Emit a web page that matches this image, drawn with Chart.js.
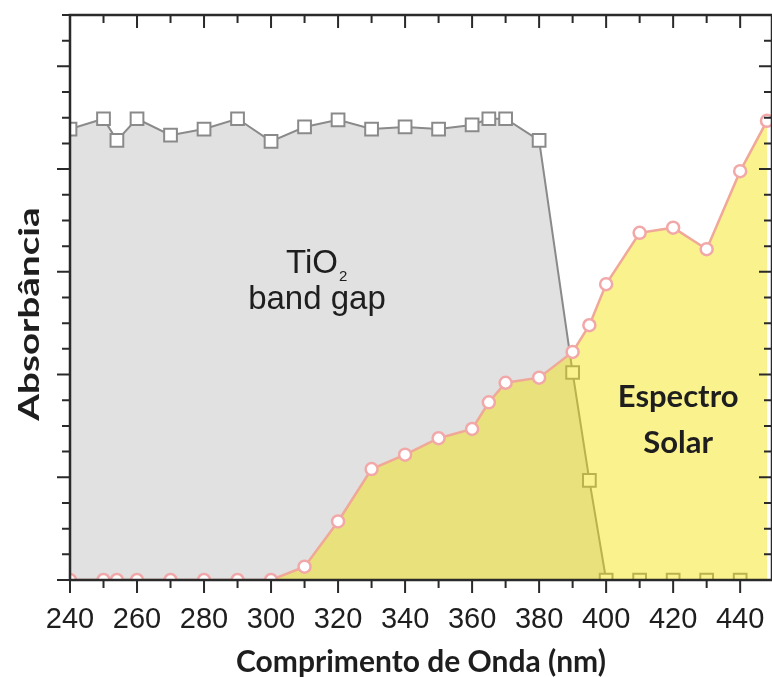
<!DOCTYPE html>
<html>
<head>
<meta charset="utf-8">
<script src="https://cdn.jsdelivr.net/npm/chart.js@4/dist/chart.umd.min.js"></script>
<style>
html, body { margin: 0; padding: 0; background: #fff; }
#wrap { width: 772px; height: 677px; }
</style>
</head>
<body>
<div id="wrap"><canvas id="chart" width="772" height="677"></canvas></div>
<script>
// TiO2 absorption (squares)
const wavelengthTiO2 = [240, 250, 254, 260, 270, 280, 290, 300, 310, 320, 330, 340, 350, 360, 365, 370, 380, 390, 395, 400, 410, 420, 430, 440];
const absTiO2 = [4.39, 4.49, 4.28, 4.49, 4.33, 4.39, 4.49, 4.27, 4.41, 4.48, 4.39, 4.41, 4.39, 4.43, 4.49, 4.49, 4.28, 2.02, 0.97, 0, 0, 0, 0, 0];

// solar spectrum (circles)
const wavelengthSolar = [240, 250, 254, 260, 270, 280, 290, 300, 310, 320, 330, 340, 350, 360, 365, 370, 380, 390, 395, 400, 410, 420, 430, 440, 448];
const absSolar = [0, 0, 0, 0, 0, 0, 0, 0, 0.13, 0.57, 1.08, 1.22, 1.38, 1.47, 1.73, 1.92, 1.97, 2.22, 2.48, 2.88, 3.38, 3.43, 3.22, 3.98, 4.47];

const xTickLabels = [240, 260, 280, 300, 320, 340, 360, 380, 400, 420, 440];
const xMin = 240, xMax = 449.5, xMinorStep = 10;
const yMax = 5.5, yMinorStep = 0.25;

const toPoints = (xs, ys) => xs.map((x, i) => ({ x: x, y: ys[i] }));

// frame, tick marks and text labels
const frame = {
    id: 'frame',
    afterDatasetsDraw(chart) {
        const ctx = chart.ctx;
        const a = chart.chartArea;
        const sx = chart.scales.x, sy = chart.scales.y;
        ctx.save();
        ctx.strokeStyle = '#2a2a2a';
        ctx.lineWidth = 2;
        ctx.beginPath();
        for (let v = xMin; v <= 440; v += xMinorStep) {
            const px = sx.getPixelForValue(v);
            const len = xTickLabels.includes(v) ? 13 : 8;
            ctx.moveTo(px, a.bottom); ctx.lineTo(px, a.bottom + len);
            ctx.moveTo(px, a.top); ctx.lineTo(px, a.top + len);
        }
        for (let v = 0; v <= yMax; v += yMinorStep) {
            const py = sy.getPixelForValue(v);
            const len = v % 1 === 0 ? 13 : 8;
            ctx.moveTo(a.left, py); ctx.lineTo(a.left - len, py);
            ctx.moveTo(a.right, py); ctx.lineTo(a.right - len, py);
        }
        ctx.stroke();
        ctx.lineWidth = 2.5;
        ctx.strokeRect(a.left, a.top, a.right - a.left, a.bottom - a.top);

        ctx.fillStyle = '#1e1e1e';
        ctx.textAlign = 'center';
        ctx.textBaseline = 'alphabetic';
        // TiO2 band gap
        const tx = sx.getPixelForValue(313.7);
        ctx.font = '33px "Liberation Sans", Arial, sans-serif';
        const tw = ctx.measureText('TiO').width;
        ctx.textAlign = 'left';
        ctx.fillText('TiO', tx - tw / 2 - 5, sy.getPixelForValue(2.99));
        ctx.font = '15px "Liberation Sans", Arial, sans-serif';
        ctx.fillText('2', tx + tw / 2 - 4, sy.getPixelForValue(2.91));
        ctx.textAlign = 'center';
        ctx.font = '33px "Liberation Sans", Arial, sans-serif';
        ctx.fillText('band gap', tx, sy.getPixelForValue(2.64));
        // Espectro Solar
        ctx.font = 'bold 31px Lato, "Open Sans", sans-serif';
        ctx.fillText('Espectro', sx.getPixelForValue(421.5), sy.getPixelForValue(1.68));
        ctx.fillText('Solar', sx.getPixelForValue(421.5), sy.getPixelForValue(1.24));
        // y title
        ctx.font = 'bold 29px Lato, "Open Sans", sans-serif';
        ctx.translate(30, 314);
        ctx.rotate(-Math.PI / 2);
        ctx.scale(1.33, 1);
        ctx.textBaseline = 'middle';
        ctx.fillText('Absorbância', 0, 0);
        ctx.restore();
    }
};

new Chart(document.getElementById('chart'), {
    type: 'line',
    data: {
        datasets: [{
            label: 'Espectro Solar',
            data: toPoints(wavelengthSolar, absSolar),
            borderColor: '#f0a898',
            borderWidth: 2.5,
            backgroundColor: 'rgba(244, 226, 0, 0.45)',
            fill: 'origin',
            tension: 0,
            clip: 0,
            pointStyle: 'circle',
            pointRadius: 6,
            pointBorderWidth: 2.5,
            pointBorderColor: '#f2a8a8',
            pointBackgroundColor: '#ffffff'
        }, {
            label: 'TiO2',
            data: toPoints(wavelengthTiO2, absTiO2),
            borderColor: '#8a8a8a',
            borderWidth: 2,
            backgroundColor: '#e1e1e1',
            fill: 'origin',
            tension: 0,
            clip: 0,
            pointStyle: 'rect',
            pointRadius: 9,
            pointBorderWidth: 2,
            pointBorderColor: '#8a8a8a',
            pointBackgroundColor: '#ffffff'
        }]
    },
    options: {
        responsive: false,
        animation: false,
        devicePixelRatio: 1,
        layout: { autoPadding: false, padding: { left: 70, top: 15, right: 0, bottom: 0 } },
        plugins: {
            legend: { display: false },
            tooltip: { enabled: false }
        },
        scales: {
            x: {
                type: 'linear',
                min: xMin,
                max: xMax,
                grid: { display: false, drawTicks: false },
                border: { display: false },
                afterFit: (scale) => {
                    scale.height = 97;
                    scale.paddingLeft = 0;
                    scale.paddingRight = 0;
                },
                ticks: {
                    stepSize: xMinorStep,
                    includeBounds: false,
                    autoSkip: false,
                    maxRotation: 0,
                    minRotation: 0,
                    padding: 23,
                    color: '#1e1e1e',
                    font: { family: '"Liberation Sans", Arial, sans-serif', size: 29 },
                    callback: (v) => xTickLabels.includes(v) ? String(v) : ''
                },
                title: {
                    display: true,
                    text: 'Comprimento de Onda (nm)',
                    color: '#1e1e1e',
                    font: { family: 'Lato, "Open Sans", sans-serif', size: 30, weight: 'bold', lineHeight: 1 },
                    padding: { top: 0, bottom: 0 }
                }
            },
            y: {
                min: 0,
                max: yMax,
                grid: { display: false, drawTicks: false },
                border: { display: false },
                ticks: { display: false, stepSize: yMinorStep }
            }
        }
    },
    plugins: [frame]
});
</script>
</body>
</html>
